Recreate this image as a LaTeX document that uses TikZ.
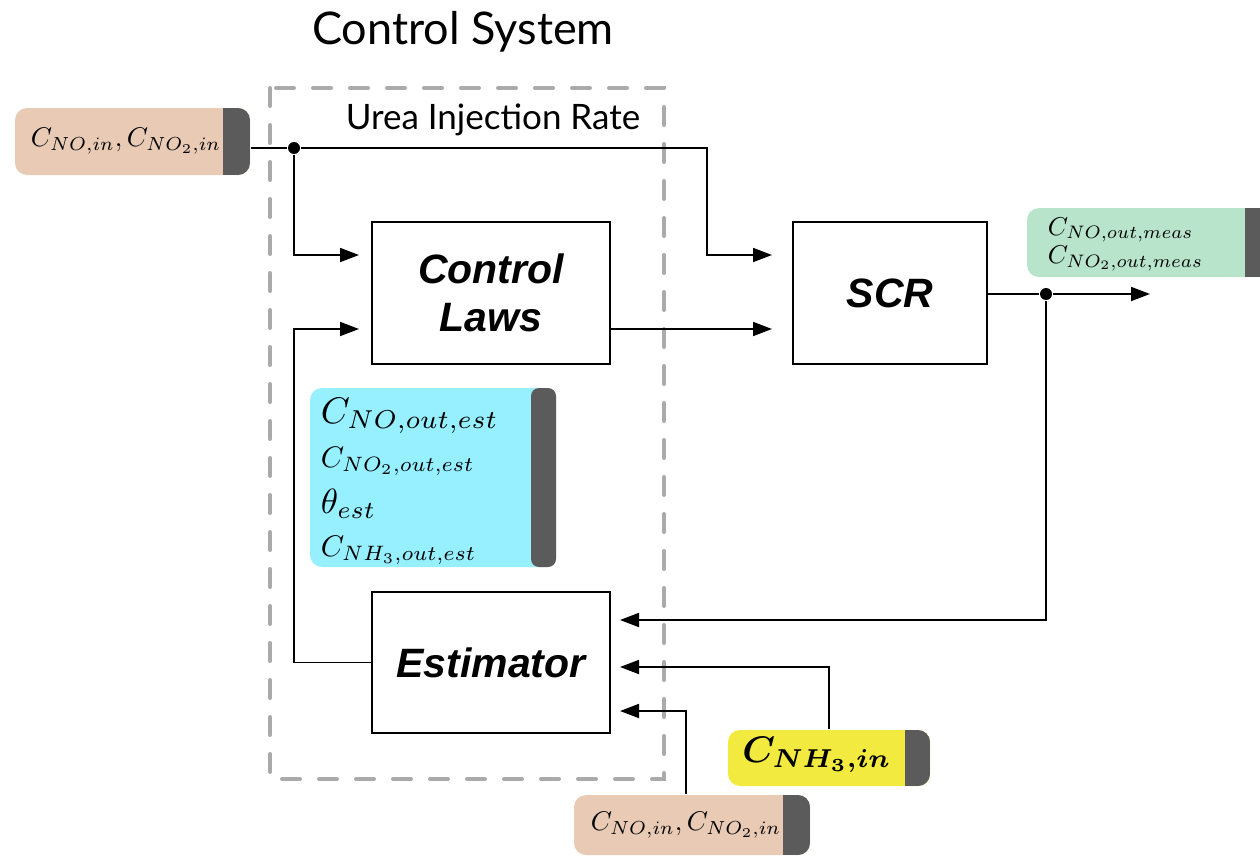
\RequirePackage{fix-cm}
\documentclass[tikz,border=0pt]{standalone}
\usepackage{fontspec}
\usepackage{bm}
\setsansfont{Liberation Sans}
\newfontfamily\gillfont{Lato}
\usetikzlibrary{arrows.meta}
\definecolor{tagorange}{HTML}{E9CBB5}
\definecolor{tagdark}{HTML}{5B5B5B}
\definecolor{taggreen}{HTML}{B7E4CB}
\definecolor{tagcyan}{HTML}{96F0FF}
\definecolor{tagyellow}{HTML}{F2EA3F}
\definecolor{dashgray}{HTML}{AAAAAA}
\begin{document}
\begin{tikzpicture}[x=1pt,y=-1pt, line width=1.8pt,
  blockbox/.style={draw=black, line width=2pt, fill=white, inner sep=0pt, align=center,
    font=\fontsize{41}{48}\selectfont\sffamily\bfseries\itshape},
  tag/.style args={#1/#2}{fill=#1, rounded corners=12pt, inner sep=0pt,
    path picture={\fill[tagdark, sharp corners] ([xshift=-#2]path picture bounding box.north east) rectangle (path picture bounding box.south east);}},
  conn/.style={line width=1.8pt, -{Triangle[length=19pt,width=14pt]}},
  dot/.style={circle, fill=black, inner sep=0pt, minimum size=12pt},
  mathtext/.style={inner sep=0pt, font=\fontsize{10}{12}\selectfont},
]
\useasboundingbox (0,0) rectangle (1260,859);

% dashed control-system frame
\draw[dashgray, line width=4pt, dash pattern=on 18pt off 19pt, line cap=round] (270,88) rectangle (664,779);

\node[font=\gillfont\fontsize{45}{48}\selectfont] (title) at (463,32) {Control System};
\node[font=\gillfont\fontsize{35}{38}\selectfont] (urea) at (493,120) {Urea Injection Rate};

% blocks
\node[blockbox, minimum width=238pt, minimum height=142pt] (cl) at (491,293) {Control\\Laws};
\node[blockbox, minimum width=194pt, minimum height=142pt] (scr) at (890,293) {SCR};
\node[blockbox, minimum width=238pt, minimum height=141pt] (est) at (491,662.5) {Estimator};

% tags
\node[tag=tagorange/27pt, minimum width=235pt, minimum height=67pt] (inA) at (132.5,141.5) {};
\node[mathtext, anchor=east] (inAtext) at (222,141) {\scalebox{2.7}{$C_{NO,in},C_{NO_2,in}$}};

\node[tag=tagorange/27pt, minimum width=236pt, minimum height=60pt] (inB) at (692,825) {};
\node[mathtext, anchor=east] (inBtext) at (782,825) {\scalebox{2.7}{$C_{NO,in},C_{NO_2,in}$}};

\node[tag=tagyellow/25pt, minimum width=202pt, minimum height=56pt] (inY) at (829,758) {};
\node[mathtext] (inYtext) at (817,755) {\scalebox{3.7}{$\bm{C_{NH_3,in}}$}};

\node[tag=taggreen/30pt, minimum width=248pt, minimum height=69pt] (outM) at (1151,242.5) {};
\node[mathtext, anchor=west] (outMtext) at (1047,243) {\scalebox{2.58}{\begin{tabular}{@{}l@{}}$C_{NO,out,meas}$\\[-1pt]$C_{NO_2,out,meas}$\end{tabular}}};

\node[tag=tagcyan/24pt, rounded corners=12pt, minimum width=246pt, minimum height=179pt, path picture={}] (estv) at (433,477.5) {};
\fill[tagdark, rounded corners=8pt] (531,388) rectangle (556,567);
\node[mathtext, anchor=base west] (estv1) at (320,423) {\scalebox{3.7}{$C_{NO,out,est}$}};
\node[mathtext, anchor=base west] (estv2) at (320,467) {\scalebox{2.97}{$C_{NO_2,out,est}$}};
\node[mathtext, anchor=base west] (estv3) at (320,513) {\scalebox{3.5}{$\theta_{est}$}};
\node[mathtext, anchor=base west] (estv4) at (320,556) {\scalebox{2.98}{$C_{NH_3,out,est}$}};

% junctions
\node[dot] (d1) at (294,148) {};
\node[dot] (d2) at (1046,294) {};
\coordinate (outend) at (1150,294);
\coordinate (b1) at (707,148);
\coordinate (b2) at (294,662.5);

% connectors
\draw (inA.east |- d1) -- (d1);
\draw[conn, shorten >=20pt] (d1) -- (b1) |- ([yshift=38pt]scr.west);
\draw[conn, shorten >=12pt] (d1) |- ([yshift=38pt]cl.west);
\draw[conn, shorten >=20pt] ([yshift=-36pt]cl.east) -- ([yshift=-36pt]scr.west);
\draw[conn, shorten >=12pt] (est.west) -- (b2) |- ([yshift=-36pt]cl.west);
\draw (scr.east |- d2) -- (d2);
\draw[conn] (d2) -- (outend);
\draw[conn, shorten >=9pt] (d2) |- ([yshift=42.5pt]est.east);
\draw[conn, shorten >=9pt] (inY.north) |- ([yshift=-4.5pt]est.east);
\draw[conn, shorten >=9pt] ([xshift=-6pt]inB.north) |- ([yshift=-48.5pt]est.east);
\end{tikzpicture}
\end{document}
